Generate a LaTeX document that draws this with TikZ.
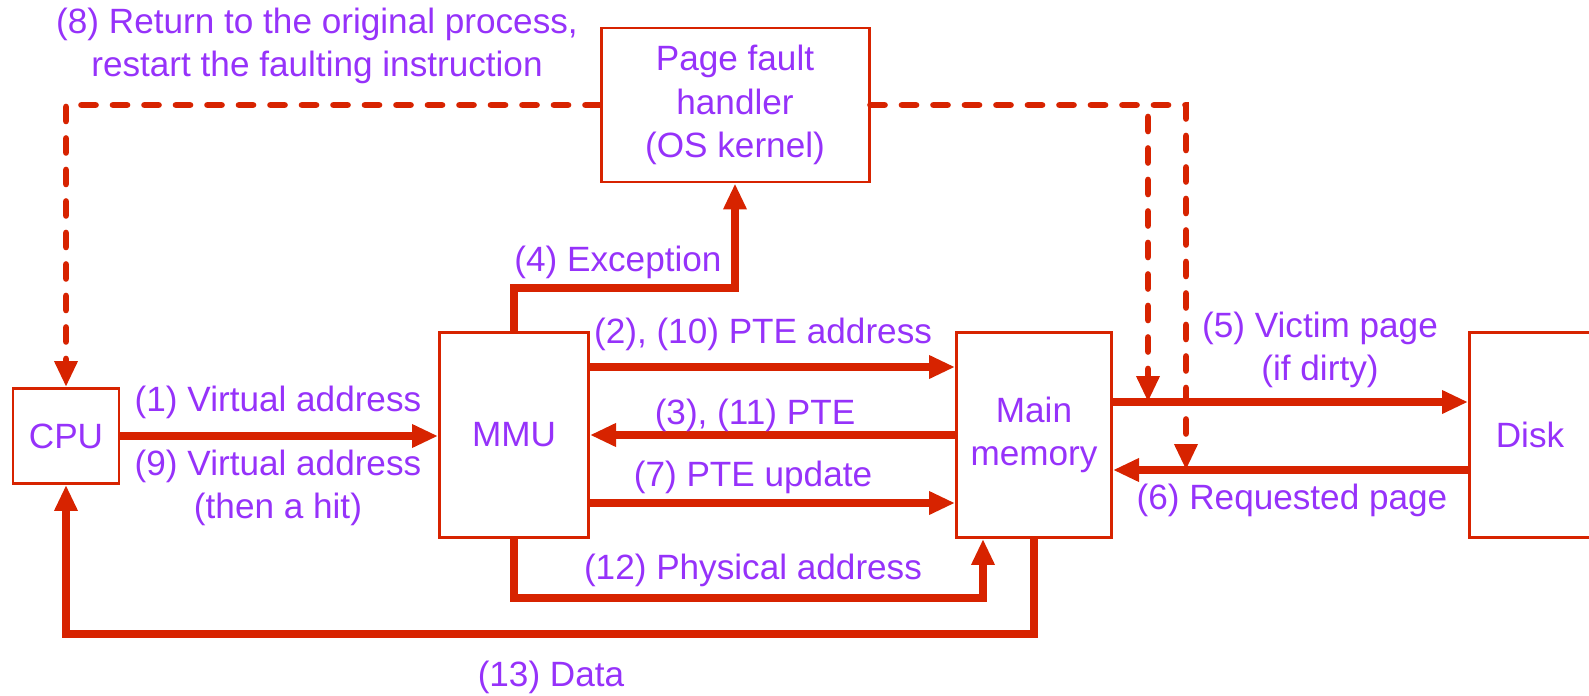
\documentclass[tikz,border=0pt]{standalone}
\usepackage{fontspec}
\setmainfont{Liberation Sans}
\usetikzlibrary{arrows.meta, positioning, calc}
\definecolor{flowred}{RGB}{215,35,0}
\definecolor{labelviolet}{RGB}{150,50,250}

\begin{document}
\begin{tikzpicture}[x=0.1mm, y=-0.1mm,
    unit/.style={draw=flowred, line width=0.85pt, inner sep=0pt, align=center, text=labelviolet, font=\fontsize{10}{12.3}\selectfont},
    lbl/.style={inner sep=0pt, align=center, text=labelviolet, font=\fontsize{10}{12.3}\selectfont},
    flow/.style={draw=flowred, line width=2pt, -{Triangle[length=2.6mm, width=2.2mm]}},
    ret/.style={flow, line width=1.9pt, line cap=round, dash pattern=on 1.4mm off 1.75mm}]

\useasboundingbox (0,0) rectangle (1589,695);

% Units
\node[unit, minimum width=10.6mm, minimum height=9.5mm] (cpu) at (66,436) {CPU};
\node[unit, minimum width=14.9mm, minimum height=20.5mm] (mmu) at (514,435) {MMU};
\node[unit, minimum width=15.5mm, minimum height=20.5mm] (mem) at (1034,435) {Main\\memory};
\node[unit, minimum width=12.1mm, minimum height=20.5mm] (disk) at (1530,435) {Disk};
\node[unit, minimum width=26.8mm, minimum height=15.4mm] (pfh) at (735,105) {Page fault\\handler\\(OS kernel)};

% CPU and MMU
\draw[flow] (cpu.east) -- (cpu.east -| mmu.west);
\draw[flow] (mmu.north) -- ++(0,-43) -| (pfh.south);

% MMU and main memory
\draw[flow] ($(mmu.east)+(0,-68)$) -- ($(mem.west)+(0,-68)$);
\draw[flow] (mem.west) -- (mmu.east);
\draw[flow] ($(mmu.east)+(0,68)$) -- ($(mem.west)+(0,68)$);
\draw[flow] (mmu.south) -- ++(0,59) -| ($(mem.south)+(-51,0)$);
\draw[flow] (mem.south) -- ++(0,95) -| (cpu.south);

% Main memory and disk
\draw[flow] ($(mem.east)+(0,-33)$) -- ($(disk.west)+(0,-33)$);
\draw[flow] ($(disk.west)+(0,35)$) -- ($(mem.east)+(0,35)$);

% Handler back to CPU and to the paging lines
\coordinate (vic) at ($(mem.east)+(35,-33)$);
\coordinate (req) at ($(mem.east)+(73,35)$);
\draw[ret] (pfh.west) -| (cpu.north);
\draw[ret] (pfh.east) -| (req);
\draw[ret] ([yshift=-1.2mm]pfh.east -| vic) -- (vic);

% Labels
\node[lbl] (l8) at (317,46) {(8) Return to the original process,\\restart the faulting instruction};
\node[lbl] (l4) at (618,262) {(4) Exception};
\node[lbl] (l1) at (278,402) {(1) Virtual address};
\node[lbl] (l9) at (278,488) {(9) Virtual address\\(then a hit)};
\node[lbl] (l2) at (763,334) {(2), (10) PTE address};
\node[lbl] (l3) at (755,415) {(3), (11) PTE};
\node[lbl] (l7) at (753,477) {(7) PTE update};
\node[lbl] (l12) at (753,570) {(12) Physical address};
\node[lbl] (l13) at (551,677) {(13) Data};
\node[lbl] (l5) at (1320,350) {(5) Victim page\\(if dirty)};
\node[lbl] (l6) at (1292,500) {(6) Requested page};
\end{tikzpicture}
\end{document}
